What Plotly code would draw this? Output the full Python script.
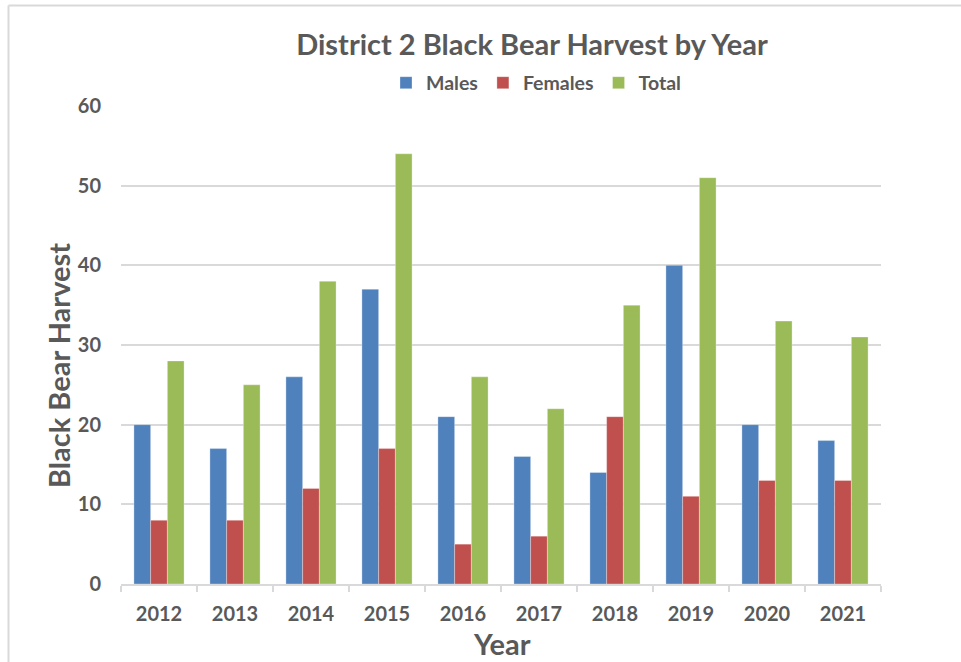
import plotly.graph_objects as go

years = ["2012", "2013", "2014", "2015", "2016", "2017", "2018", "2019", "2020", "2021"]
males = [20, 17, 26, 37, 21, 16, 14, 40, 20, 18]
females = [8, 8, 12, 17, 5, 6, 21, 11, 13, 13]
total = [28, 25, 38, 54, 26, 22, 35, 51, 33, 31]

FONT = "Lato"
GRAY = "#595959"
GRID = "#d9d9d9"

fig = go.Figure()
for name, vals, col in [("Males", males, "#4F81BD"),
                        ("Females", females, "#C0504D"),
                        ("Total", total, "#9BBB59")]:
    fig.add_trace(go.Bar(x=years, y=vals, name="<b>" + name + "</b>", marker_color=col,
                         marker_line=dict(width=0.6, color="rgba(255,255,255,0.5)")))

W, H = 961, 662
L, R, T, B = 121, 80, 106, 78
pw, ph = W - L - R, H - T - B

def px_x(p):
    return (p - L) / pw

def px_y(p):
    return (H - B - p) / ph

fig.update_layout(
    width=W, height=H,
    margin=dict(l=L, r=R, t=T, b=B),
    paper_bgcolor="white", plot_bgcolor="white",
    font=dict(family=FONT, color=GRAY),
    barmode="group", bargap=0.34, bargroupgap=0,
    title=dict(text="<b>District 2 Black Bear Harvest by Year</b>",
               font=dict(size=29, color=GRAY, family=FONT),
               xref="paper", x=px_x(532), xanchor="center",
               yref="container", y=1 - 45 / H, yanchor="middle"),
    legend=dict(orientation="h", x=px_x(536), xanchor="center",
                y=px_y(83), yanchor="middle",
                font=dict(size=19.5, color=GRAY, family=FONT),
                itemwidth=30, traceorder="normal"),
    showlegend=True,
)
fig.update_xaxes(
    type="category", automargin=False,
    showline=True, linecolor=GRID, linewidth=1.5,
    ticks="outside", tickson="boundaries", ticklen=6, tickcolor=GRID, tickwidth=1.5,
    tickfont=dict(size=20, color=GRAY, family=FONT),
    tickprefix="<b>", ticksuffix="</b>",
    ticklabelstandoff=11,
    showgrid=False,
)
fig.update_yaxes(
    range=[0, 60], dtick=10, automargin=False,
    showgrid=True, gridcolor=GRID, gridwidth=1.5,
    zeroline=False, showline=False,
    tickfont=dict(size=20, color=GRAY, family=FONT),
    tickprefix="<b>", ticksuffix="</b>",
    ticklabelstandoff=19,
)

# axis titles placed like the reference
fig.add_annotation(text="<b>Black Bear Harvest</b>", textangle=-90,
                   xref="paper", yref="paper", x=px_x(58), y=px_y(366),
                   xanchor="center", yanchor="middle", showarrow=False,
                   font=dict(size=29, color=GRAY, family=FONT))
fig.add_annotation(text="<b>Year</b>",
                   xref="paper", yref="paper", x=px_x(502), y=px_y(643),
                   xanchor="center", yanchor="middle", showarrow=False,
                   font=dict(size=29, color=GRAY, family=FONT))

# outer chart border (top and left edges visible)
fig.add_shape(type="line", xref="paper", yref="paper",
              x0=px_x(8.5), x1=px_x(8.5), y0=px_y(H + 5), y1=px_y(5.5),
              line=dict(color=GRID, width=2))
fig.add_shape(type="line", xref="paper", yref="paper",
              x0=px_x(8.5), x1=px_x(W + 5), y0=px_y(5.5), y1=px_y(5.5),
              line=dict(color=GRID, width=2))

fig.write_html("out.html")
